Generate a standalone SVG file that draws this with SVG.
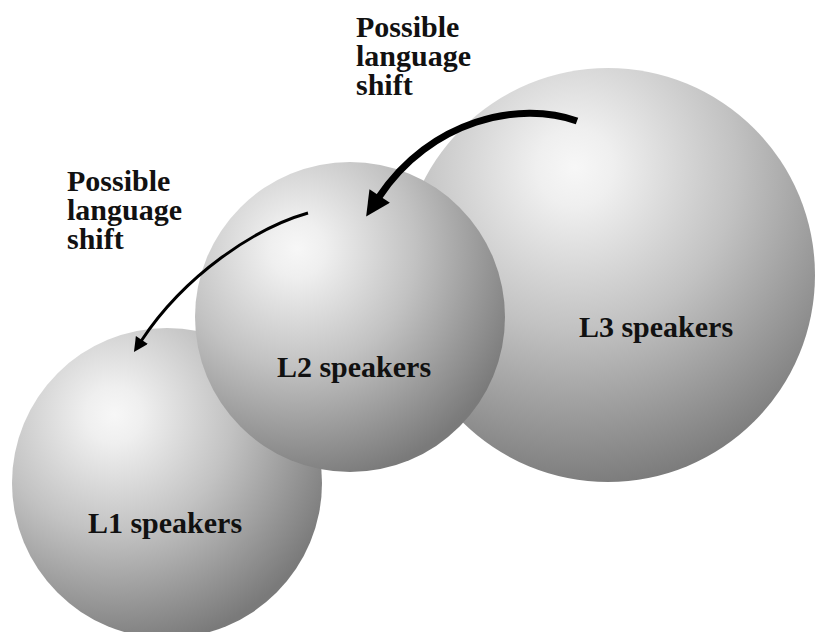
<svg xmlns="http://www.w3.org/2000/svg" width="815" height="632" viewBox="0 0 815 632">
  <defs>
    <radialGradient id="sphere" cx="0.33" cy="0.28" fx="0.33" fy="0.28" r="0.76">
      <stop offset="0" stop-color="#f7f7f7"/>
      <stop offset="0.12" stop-color="#efefef"/>
      <stop offset="0.5" stop-color="#c2c2c2"/>
      <stop offset="1" stop-color="#7a7a7a"/>
    </radialGradient>
    <radialGradient id="sphere3" cx="0.42" cy="0.24" fx="0.42" fy="0.24" r="0.78">
      <stop offset="0" stop-color="#f7f7f7"/>
      <stop offset="0.12" stop-color="#efefef"/>
      <stop offset="0.5" stop-color="#c2c2c2"/>
      <stop offset="1" stop-color="#7a7a7a"/>
    </radialGradient>
    <marker id="headBig" viewBox="0 0 10 10" refX="0.5" refY="5" markerWidth="3.8" markerHeight="3.5" orient="auto" markerUnits="strokeWidth">
      <path d="M0,0 L10,5 L0,10 z" fill="#000"/>
    </marker>
    <marker id="headSmall" viewBox="0 0 10 10" refX="0.5" refY="5" markerWidth="5.4" markerHeight="4.8" orient="auto" markerUnits="strokeWidth">
      <path d="M0,0 L10,5 L0,10 z" fill="#000"/>
    </marker>
  </defs>
  <style>
    text { font-family: "Liberation Serif", "Times New Roman", serif; font-weight: bold; font-size: 30px; fill: #111; }
    .lbl { text-anchor: middle; }
    .conn { fill: none; stroke: #000; }
  </style>
  <rect width="815" height="632" fill="#fff"/>

  <g id="L1">
    <circle cx="167" cy="483" r="155" fill="url(#sphere)"/>
    <text class="lbl" x="165" y="533">L1 speakers</text>
  </g>
  <g id="L3">
    <circle cx="608" cy="275" r="207" fill="url(#sphere3)"/>
    <text class="lbl" x="656" y="337">L3 speakers</text>
  </g>
  <g id="L2">
    <circle cx="350" cy="317" r="155" fill="url(#sphere)"/>
    <text class="lbl" x="354" y="377">L2 speakers</text>
  </g>

  <g id="connectors">
    <path class="conn" d="M577,121 C520,100 430,120 379,197" stroke-width="7" marker-end="url(#headBig)"/>
    <path class="conn" d="M308,213 C255,228 185,275 141.5,340.5" stroke-width="3" marker-end="url(#headSmall)"/>
  </g>

  <g id="label-shift-top">
    <text x="356" y="37">Possible</text>
    <text x="356" y="66">language</text>
    <text x="356" y="95">shift</text>
  </g>
  <g id="label-shift-left">
    <text x="67" y="191">Possible</text>
    <text x="67" y="220">language</text>
    <text x="67" y="249">shift</text>
  </g>
</svg>
